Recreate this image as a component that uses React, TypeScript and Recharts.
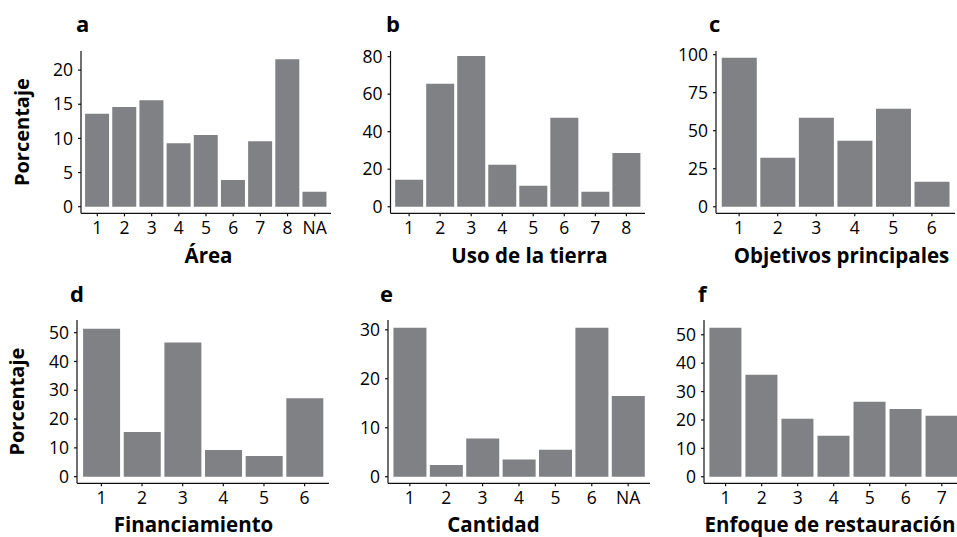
import { BarChart, Bar, XAxis, YAxis } from 'recharts';

// categories and values (percent)
const areaCats = ['1', '2', '3', '4', '5', '6', '7', '8', 'NA'];
const areaValues = [13.6, 14.6, 15.6, 9.3, 10.5, 3.9, 9.6, 21.6, 2.2];

const usoCats = ['1', '2', '3', '4', '5', '6', '7', '8'];
const usoValues = [14.4, 65.5, 80.4, 22.4, 11.2, 47.4, 8.0, 28.7];

const objetivosCats = ['1', '2', '3', '4', '5', '6'];
const objetivosValues = [98, 32.2, 58.5, 43.4, 64.5, 16.4];

const financiamientoCats = ['1', '2', '3', '4', '5', '6'];
const financiamientoValues = [51.4, 15.5, 46.6, 9.3, 7.2, 27.2];

const cantidadCats = ['1', '2', '3', '4', '5', '6', 'NA'];
const cantidadValues = [30.4, 2.4, 7.8, 3.5, 5.5, 30.4, 16.5];

const enfoqueCats = ['1', '2', '3', '4', '5', '6', '7'];
const enfoqueValues = [52.5, 35.9, 20.4, 14.4, 26.4, 23.9, 21.5];

const FONT = '"Open Sans", sans-serif';
const BAR = '#808185';
const INK = '#111';

interface PanelProps {
  letter: string;
  cats: string[];
  values: number[];
  title: string;
  yTicks: number[];
  yDomain: [number, number];
  left: number;
  top: number;
  width: number;
  height: number;
  axisX: number;
  plotRight: number;
  plotTop: number;
  plotBottom: number;
  titleX: number;
  titleY: number;
  letterX: number;
  letterY: number;
  ylabelX?: number;
}

const Panel = (p: PanelProps) => {
  const data = p.cats.map((c, i) => ({ cat: c, value: p.values[i] }));
  const plotW = p.plotRight - p.axisX;
  // ggplot discrete expansion: 0.6 unit each side, bars 0.9 wide
  const unit = plotW / (p.cats.length + 0.2);
  const pad = unit * 0.1;
  const midY = (p.plotTop + p.plotBottom) / 2 - p.top;

  return (
    <div style={{ position: 'absolute', left: p.left, top: p.top, width: p.width, height: p.height }}>
      <BarChart
        width={p.width}
        height={p.height}
        data={data}
        margin={{ top: p.plotTop - p.top, right: p.left + p.width - p.plotRight, bottom: 0, left: 0 }}
        barCategoryGap="5%"
      >
        <XAxis
          dataKey="cat"
          type="category"
          interval={0}
          height={p.top + p.height - p.plotBottom}
          padding={{ left: pad, right: pad }}
          tickSize={3}
          tickMargin={5}
          stroke={INK}
          strokeWidth={1.2}
          tick={{ fill: '#000', fontSize: 17.5, fontFamily: FONT }}
          label={() => (
            <text
              x={p.titleX - p.left}
              y={p.titleY - p.top}
              textAnchor="middle"
              fill="#000"
              style={{ fontFamily: FONT, fontSize: 20.5, fontWeight: 700 }}
            >
              {p.title}
            </text>
          )}
        />
        <YAxis
          type="number"
          width={p.axisX - p.left}
          domain={p.yDomain}
          ticks={p.yTicks}
          interval={0}
          allowDataOverflow
          tickSize={3}
          tickMargin={5}
          stroke={INK}
          strokeWidth={1.2}
          tick={{ fill: '#000', fontSize: 17.5, fontFamily: FONT }}
          label={
            p.ylabelX !== undefined
              ? () => (
                  <text
                    x={p.ylabelX! - p.left}
                    y={midY}
                    textAnchor="middle"
                    fill="#000"
                    transform={`rotate(-90, ${p.ylabelX! - p.left}, ${midY})`}
                    style={{ fontFamily: FONT, fontSize: 20, fontWeight: 700 }}
                  >
                    Porcentaje
                  </text>
                )
              : undefined
          }
        />
        <Bar dataKey="value" fill={BAR} isAnimationActive={false} />
      </BarChart>
    </div>
  );
};

const ROW1 = { top: 0, height: 270, plotTop: 51, plotBottom: 213.3, titleY: 262.5, letterY: 32 };
const ROW2 = { top: 270, height: 267, plotTop: 320, plotBottom: 483.3, titleY: 532, letterY: 302 };

const panels: PanelProps[] = [
  {
    ...ROW1, letter: 'a', cats: areaCats, values: areaValues, title: 'Área',
    yTicks: [0, 5, 10, 15, 20], yDomain: [-0.97, 22.8],
    left: 0, width: 332, axisX: 81, plotRight: 331, titleX: 208.5, letterX: 76, ylabelX: 29.5,
  },
  {
    ...ROW1, letter: 'b', cats: usoCats, values: usoValues, title: 'Uso de la tierra',
    yTicks: [0, 20, 40, 60, 80], yDomain: [-3.5, 83.0],
    left: 340, width: 306, axisX: 390.5, plotRight: 645, titleX: 529.5, letterX: 386,
  },
  {
    ...ROW1, letter: 'c', cats: objetivosCats, values: objetivosValues, title: 'Objetivos principales',
    yTicks: [0, 25, 50, 75, 100], yDomain: [-4.3, 102.4],
    left: 660, width: 296, axisX: 716, plotRight: 955, titleX: 841.5, letterX: 709,
  },
  {
    ...ROW2, letter: 'd', cats: financiamientoCats, values: financiamientoValues, title: 'Financiamiento',
    yTicks: [0, 10, 20, 30, 40, 50], yDomain: [-2.3, 54.4],
    left: 0, width: 330, axisX: 77, plotRight: 329, titleX: 193.5, letterX: 70, ylabelX: 24.5,
  },
  {
    ...ROW2, letter: 'e', cats: cantidadCats, values: cantidadValues, title: 'Cantidad',
    yTicks: [0, 10, 20, 30], yDomain: [-1.35, 32.0],
    left: 340, width: 311, axisX: 388, plotRight: 650, titleX: 493.5, letterX: 380,
  },
  {
    ...ROW2, letter: 'f', cats: enfoqueCats, values: enfoqueValues, title: 'Enfoque de restauración',
    yTicks: [0, 10, 20, 30, 40, 50], yDomain: [-2.3, 55.2],
    left: 650, width: 314, axisX: 704, plotRight: 963.4, titleX: 830, letterX: 698,
  },
];

export default function App() {
  return (
    <div
      style={{
        position: 'absolute',
        left: 0,
        top: 0,
        width: 957,
        height: 537,
        overflow: 'hidden',
        background: '#fff',
      }}
    >
      {panels.map((p) => (
        <Panel key={p.letter} {...p} />
      ))}
      {/* panel letters */}
      <svg width={957} height={537} style={{ position: 'absolute', left: 0, top: 0, pointerEvents: 'none' }}>
        {panels.map((p) => (
          <text
            key={p.letter}
            x={p.letterX}
            y={p.letterY}
            fill="#000"
            style={{ fontFamily: FONT, fontSize: 22, fontWeight: 700 }}
          >
            {p.letter}
          </text>
        ))}
      </svg>
    </div>
  );
}
